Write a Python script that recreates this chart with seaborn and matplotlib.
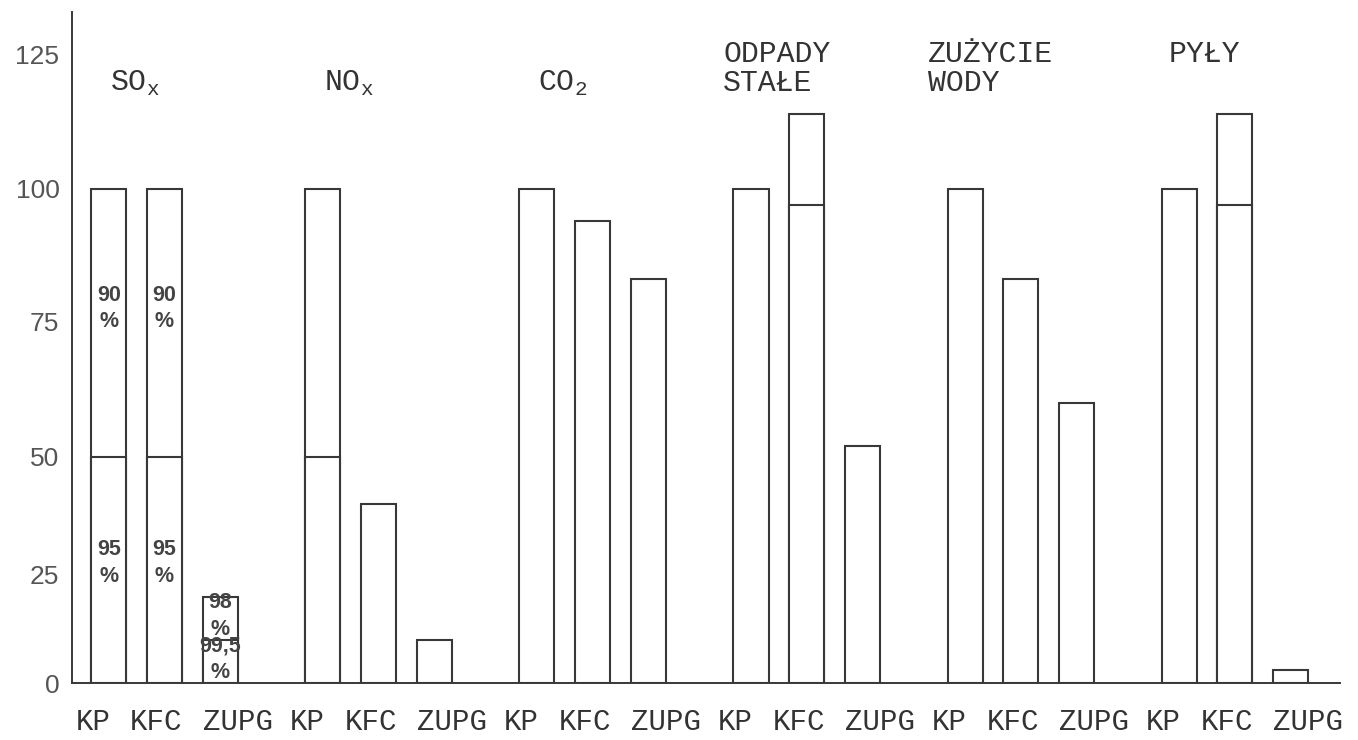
import numpy as np
import pandas as pd
import seaborn as sns
import matplotlib.pyplot as plt
from matplotlib.transforms import ScaledTranslation

groups = ['SOx', 'NOx', 'CO2', 'ODPADY STAŁE', 'ZUŻYCIE WODY', 'PYŁY']
group_labels = ['\nSO$_\\mathrm{x}$', '\nNO$_\\mathrm{x}$', '\nCO$_\\mathrm{2}$',
                'ODPADY\nSTAŁE', 'ZUŻYCIE\nWODY', 'PYŁY']
plants = ['KP', 'KFC', 'ZUPG']

# full bar height per group
kp_total = [100, 100, 100, 100, 100, 100]
kfc_total = [100, 40, 94, 114, 83, 114]
zupg_total = [20, 10, 83, 52, 60, 3]
# level of the dividing line inside a bar (nan = no line)
kp_lower = [50, 50, np.nan, np.nan, np.nan, np.nan]
kfc_lower = [50, np.nan, np.nan, 97, np.nan, 97]
zupg_lower = [10, np.nan, np.nan, np.nan, np.nan, np.nan]

# reduction notes written into the SOx bars
pct_upper = ['90\n%', '90\n%', '98\n%']
pct_lower = ['95\n%', '95\n%', '99,5\n%']

y_ticks = [0, 25, 50, 75, 100, 125]

# the hand drawn value axis is not evenly spaced
scale_vals = [-25, 0, 25, 50, 75, 100, 125, 150]
scale_pix = [-108, 0, 108, 226, 361, 494, 628, 762]


def fwd(v):
    return np.interp(v, scale_vals, scale_pix)


def inv(p):
    return np.interp(p, scale_pix, scale_vals)


sns.set_style('white')
plt.rcParams['font.family'] = ['Liberation Mono', 'DejaVu Sans']
plt.rcParams['mathtext.fontset'] = 'custom'
plt.rcParams['mathtext.rm'] = 'Liberation Mono'

ink = '#383838'

df = pd.DataFrame({
    'group': groups * 3,
    'plant': np.repeat(plants, len(groups)),
    'total': kp_total + kfc_total + zupg_total,
    'lower': kp_lower + kfc_lower + zupg_lower,
})

fig = plt.figure(figsize=(13.58, 7.4), dpi=100)
ax = fig.add_axes([0.053, 0.077, 0.934, 0.907])

bar_kw = dict(hue='plant', hue_order=plants, order=groups, palette=['white'] * 3,
              edgecolor=ink, linewidth=1.5, width=0.78, gap=0.37,
              errorbar=None, legend=False, ax=ax)
sns.barplot(data=df, x='group', y='total', **bar_kw)
centers = {}
for plant, cont in zip(plants, ax.containers[:3]):
    for g, bar in zip(groups, cont):
        centers[(g, plant)] = bar.get_x() + bar.get_width() / 2
sns.barplot(data=df.dropna(subset=['lower']), x='group', y='lower', **bar_kw)

ax.set_yscale('function', functions=(fwd, inv))
ax.set_ylim(0, 133)
ax.set_xlim(-0.432, 5.493)
ax.set_yticks(y_ticks)
ax.set_yticklabels([str(t) for t in y_ticks], family='Liberation Sans', fontsize=19, color='#555')

ax.set_xlabel('')
ax.set_ylabel('')
ax.tick_params(axis='both', length=0)
ax.tick_params(axis='y', pad=9)
ax.tick_params(axis='x', pad=18)

xt = [centers[(g, p)] for g in groups for p in plants]
ax.set_xticks(xt)
ax.set_xticklabels(plants * len(groups), fontsize=21, color='#333')
# labels were typed in one line, so they sit a little off the bars
shift = {'KP': -16, 'KFC': -8, 'ZUPG': 18}
for lab in ax.get_xticklabels():
    dx = shift[lab.get_text()] / 100
    lab.set_transform(lab.get_transform() + ScaledTranslation(dx, 0, fig.dpi_scale_trans))

for side in ['top', 'right']:
    ax.spines[side].set_visible(False)
for side in ['left', 'bottom']:
    ax.spines[side].set_color(ink)
    ax.spines[side].set_linewidth(1.4)

for i, lab in enumerate(group_labels):
    ax.text(i - 0.14, 0.958, lab, transform=ax.get_xaxis_transform(), ha='center', va='top',
            multialignment='left', fontsize=21.5, color='#333', linespacing=1.05)

sox = df[df['group'] == 'SOx'].set_index('plant')
for plant, up, low in zip(plants, pct_upper, pct_lower):
    x = centers[('SOx', plant)]
    top, mid = sox.loc[plant, 'total'], sox.loc[plant, 'lower']
    ax.text(x, mid + 0.55 * (top - mid), up, ha='center', va='center', family='Liberation Sans',
            fontweight='bold', fontsize=15.5, color='#444', linespacing=1.35)
    ax.text(x, 0.55 * mid, low, ha='center', va='center', family='Liberation Sans',
            fontweight='bold', fontsize=15.5, color='#444', linespacing=1.35)

plt.savefig('out.png', dpi=100)
